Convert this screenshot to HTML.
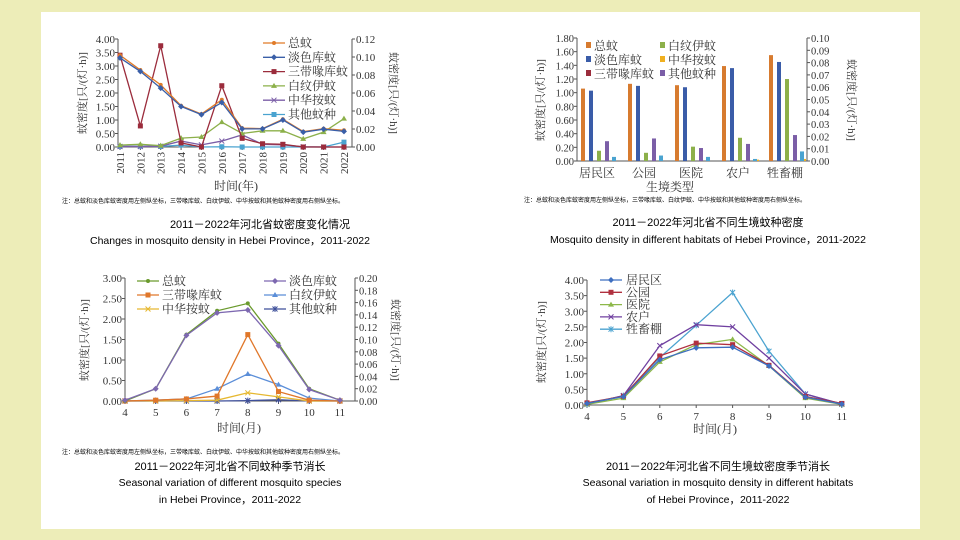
<!DOCTYPE html>
<html><head><meta charset="utf-8"><style>
html,body{margin:0;padding:0;background:#ededb8;width:960px;height:540px;overflow:hidden}
#w{position:absolute;left:41px;top:12px;width:879px;height:517px;background:#fff}
svg{position:absolute;left:0;top:0}
</style></head><body><div id="w"></div>
<svg id="s" width="960" height="540" xmlns="http://www.w3.org/2000/svg" font-family="'Liberation Serif','Noto Serif CJK SC',serif"></svg>
<script>
const S=document.getElementById('s');let h='';
const CJ="'Liberation Sans','Noto Sans CJK SC',sans-serif";
function t(x,y,s,o={}){h+=`<text x="${x}" y="${y}" font-size="${o.fs||11}" fill="${o.c||'#333'}" text-anchor="${o.a||'start'}" ${o.tr?`transform="${o.tr}"`:''} ${o.f?`font-family="${o.f}"`:''}>${s}</text>`;}
function l(x1,y1,x2,y2,c='#555',w=1){h+=`<line x1="${x1}" y1="${y1}" x2="${x2}" y2="${y2}" stroke="${c}" stroke-width="${w}"/>`;}
function mk(x,y,m,c){if(m=='o')h+=`<circle cx="${x}" cy="${y}" r="2" fill="${c}"/>`;else if(m=='s')h+=`<rect x="${x-2.5}" y="${y-2.5}" width="5" height="5" fill="${c}"/>`;else if(m=='t')h+=`<path d="M${x} ${y-3}L${x+3} ${y+2}L${x-3} ${y+2}Z" fill="${c}"/>`;else if(m=='d')h+=`<path d="M${x} ${y-3}L${x+3} ${y}L${x} ${y+3}L${x-3} ${y}Z" fill="${c}"/>`;else if(m=='x'){l(x-2.5,y-2.5,x+2.5,y+2.5,c);l(x-2.5,y+2.5,x+2.5,y-2.5,c);}else if(m=='*'){l(x-2.5,y-2.5,x+2.5,y+2.5,c);l(x-2.5,y+2.5,x+2.5,y-2.5,c);l(x,y-3,x,y+3,c);}}
function series(xs,ys,c,m){h+=`<polyline fill="none" stroke="${c}" stroke-width="1.3" points="${xs.map((x,i)=>x+','+ys[i]).join(' ')}"/>`;xs.forEach((x,i)=>mk(x,ys[i],m,c));}
function yaxis(x,y0,y1,n,lab,side,fs){l(x,y0,x,y1);for(let i=0;i<=n;i++){let y=y0+(y1-y0)*i/n;l(side<0?x-3:x,y,side<0?x:x+3,y);t(side<0?x-3:x+4,y+4,lab(i),{a:side<0?'end':'start',fs:fs||11});}}
// ===== Chart 1
{const x0=120,dx=20.36,y0=147,k=27;l(118,y0,352,y0);
yaxis(118,147,39,8,i=>(i*0.5).toFixed(2),-1);yaxis(352,147,39,6,i=>(i*0.02).toFixed(2),1);
const xs=[...Array(12)].map((_,i)=>x0+i*dx);
xs.forEach((x,i)=>{l(x,147,x,150);t(x+4,152,2011+i,{a:'end',tr:`rotate(-90 ${x+4} 152)`});});
const Y=a=>a.map(v=>y0-v*k);
series(xs,Y([0.02,0.03,0.02,0.07,0,0.01,0,0,0,0,0,0.18]),'#4aa3d0','s');
series(xs,Y([0.02,0.02,0.03,0.22,0.08,0.22,0.45,0.1,0.08,0.01,0,0]),'#7b5ea7','x');
series(xs,Y([0.07,0.1,0.05,0.33,0.37,0.92,0.5,0.6,0.6,0.3,0.55,1.05]),'#8cb04a','t');
series(xs,Y([3.4,0.78,3.75,0.15,0,2.27,0.32,0.12,0.1,0,0,0]),'#9b2c3c','s');
series(xs,Y([3.4,2.85,2.3,1.53,1.22,1.75,0.7,0.68,1.03,0.57,0.68,0.62]),'#e07b28','o');
series(xs,Y([3.3,2.8,2.18,1.5,1.2,1.65,0.67,0.67,1.0,0.55,0.66,0.58]),'#3a5fa8','d');
t(86,93,'蚊密度[只/(灯·h)]',{a:'middle',tr:'rotate(-90 86 93)'});t(390,93,'蚊密度[只/(灯·h)]',{a:'middle',tr:'rotate(90 390 93)'});
t(236,190,'时间(年)',{a:'middle',fs:12});
[['总蚊','#e07b28','o'],['淡色库蚊','#3a5fa8','d'],['三带喙库蚊','#9b2c3c','s'],['白纹伊蚊','#8cb04a','t'],['中华按蚊','#7b5ea7','x'],['其他蚊种','#4aa3d0','s']].forEach((r,i)=>{let y=43+i*14.3;l(263,y,285,y,r[1],1.3);mk(274,y,r[2],r[1]);t(288,y+4,r[0],{fs:12});});
t(62,203,'注：总蚊和淡色库蚊密度用左侧纵坐标，三带喙库蚊、白纹伊蚊、中华按蚊和其他蚊种密度用右侧纵坐标。',{fs:6,f:CJ,c:'#000'});
t(260,228,'2011－2022年河北省蚊密度变化情况',{a:'middle',fs:11,f:CJ,c:'#000'});
t(230,244,'Changes in mosquito density in Hebei Province，2011-2022',{a:'middle',fs:10.5,f:CJ,c:'#000'});}
// ===== Chart 2
{const y0=161,k=68.3;l(577,y0,807,y0);
yaxis(577,161,38,9,i=>(i*0.2).toFixed(2),-1,10.5);yaxis(807,161,38,10,i=>(i*0.01).toFixed(2),1,10.5);
const cols=['#d77b2f','#3a5ca8','#8cb04a','#7b5ea7','#4aa3d0','#f0b020'];
const d=[[1.06,1.13,1.11,1.39,1.55],[1.03,1.10,1.08,1.36,1.45],[0.15,0.12,0.21,0.34,1.2],[0.29,0.33,0.19,0.25,0.38],[0.06,0.08,0.06,0.03,0.14],[0,0,0,0.02,0.03]];
const off=[0,8,16,24,31,35];
for(let g=0;g<5;g++){let bx=581+g*47;for(let s=0;s<6;s++){let v=d[s][g];if(v>0)h+=`<rect x="${bx+off[s]}" y="${y0-v*k}" width="${s==5?2:4}" height="${v*k}" fill="${cols[s]}"/>`;}}
['居民区','公园','医院','农户','牲畜棚'].forEach((n,i)=>t(597+i*47,177,n,{a:'middle',fs:12}));
t(670,191,'生境类型',{a:'middle',fs:12});
t(544,100,'蚊密度[只/(灯·h)]',{a:'middle',tr:'rotate(-90 544 100)'});t(848,100,'蚊密度[只/(灯·h)]',{a:'middle',tr:'rotate(90 848 100)'});
[['总蚊',0,0],['淡色库蚊',1,0],['三带喙库蚊','#9b2c3c',0],['白纹伊蚊',2,1],['中华按蚊',5,1],['其他蚊种',3,1]].forEach((r,i)=>{let row=i%3,x=r[2]?660:586,y=45+row*14;let c=typeof r[1]=='number'?cols[r[1]]:r[1];h+=`<rect x="${x}" y="${y-3}" width="5" height="6" fill="${c}"/>`;t(x+8,y+5,r[0],{fs:12});});
t(524,202,'注：总蚊和淡色库蚊密度用左侧纵坐标，三带喙库蚊、白纹伊蚊、中华按蚊和其他蚊种密度用右侧纵坐标。',{fs:6,f:CJ,c:'#000'});
t(708,226,'2011－2022年河北省不同生境蚊种密度',{a:'middle',fs:11,f:CJ,c:'#000'});
t(708,243,'Mosquito density in different habitats of Hebei Province，2011-2022',{a:'middle',fs:10.5,f:CJ,c:'#000'});}
// ===== Chart 3
{const x0=125,dx=30.7,y0=401,k=41;l(125,y0,355,y0);
yaxis(125,401,278,6,i=>(i*0.5).toFixed(2),-1);yaxis(355,401,278,10,i=>(i*0.02).toFixed(2),1,10.5);
const xs=[...Array(8)].map((_,i)=>x0+i*dx);xs.forEach((x,i)=>{l(x,401,x,404);t(x,416,4+i,{a:'middle'});});
const Y=a=>a.map(v=>y0-v*k);
series(xs,Y([0,0,0,0,0.01,0.03,0,0]),'#3e4f9a','*');
series(xs,Y([0,0,0.01,0.02,0.2,0.1,0,0]),'#e6b830','x');
series(xs,Y([0,0.02,0.05,0.3,0.66,0.4,0.07,0]),'#5b8ed8','t');
series(xs,Y([0,0.02,0.05,0.12,1.62,0.23,0.02,0]),'#e0772a','s');
series(xs,Y([0,0.3,1.62,2.2,2.38,1.4,0.3,0.02]),'#6a9a2c','o');
series(xs,Y([0.02,0.3,1.6,2.15,2.22,1.35,0.28,0.02]),'#7d68b0','d');
t(88,340,'蚊密度[只/(灯·h)]',{a:'middle',tr:'rotate(-90 88 340)'});t(392,340,'蚊密度[只/(灯·h)]',{a:'middle',tr:'rotate(90 392 340)'});
t(239,432,'时间(月)',{a:'middle',fs:12});
[['总蚊','#6a9a2c','o',137,281],['三带喙库蚊','#e0772a','s',137,295],['中华按蚊','#e6b830','x',137,309],['淡色库蚊','#7d68b0','d',264,281],['白纹伊蚊','#5b8ed8','t',264,295],['其他蚊种','#3e4f9a','*',264,309]].forEach(r=>{l(r[3],r[4],r[3]+22,r[4],r[1],1.3);mk(r[3]+11,r[4],r[2],r[1]);t(r[3]+25,r[4]+4,r[0],{fs:12});});
t(62,454,'注：总蚊和淡色库蚊密度用左侧纵坐标，三带喙库蚊、白纹伊蚊、中华按蚊和其他蚊种密度用右侧纵坐标。',{fs:6,f:CJ,c:'#000'});
t(230,470,'2011－2022年河北省不同蚊种季节消长',{a:'middle',fs:11,f:CJ,c:'#000'});
t(230,486,'Seasonal variation of different mosquito species',{a:'middle',fs:10.5,f:CJ,c:'#000'});
t(230,503,'in Hebei Province，2011-2022',{a:'middle',fs:10.5,f:CJ,c:'#000'});}
// ===== Chart 4
{const x0=587,dx=36.4,y0=405,k=31.25;l(587,y0,843,y0);
yaxis(587,405,280,8,i=>(i*0.5).toFixed(2),-1);
const xs=[...Array(8)].map((_,i)=>x0+i*dx);xs.forEach((x,i)=>{l(x,405,x,408);t(x,420,4+i,{a:'middle'});});
const Y=a=>a.map(v=>y0-v*k);
series(xs,Y([0.02,0.3,1.52,2.55,3.6,1.72,0.35,0.02]),'#4ba3d0','*');
series(xs,Y([0.03,0.3,1.9,2.57,2.5,1.5,0.35,0.03]),'#7040a0','x');
series(xs,Y([0.02,0.22,1.38,1.93,2.1,1.25,0.22,0.02]),'#8db84a','t');
series(xs,Y([0.07,0.28,1.57,1.98,1.93,1.27,0.27,0.05]),'#b0303f','s');
series(xs,Y([0.05,0.27,1.45,1.83,1.85,1.25,0.25,0.03]),'#3e6fc0','d');
t(545,342,'蚊密度[只/(灯·h)]',{a:'middle',tr:'rotate(-90 545 342)'});
t(715,433,'时间(月)',{a:'middle',fs:12});
[['居民区','#3e6fc0','d'],['公园','#b0303f','s'],['医院','#8db84a','t'],['农户','#7040a0','x'],['牲畜棚','#4ba3d0','*']].forEach((r,i)=>{let y=280+i*12.3;l(600,y,622,y,r[1],1.3);mk(611,y,r[2],r[1]);t(626,y+4,r[0],{fs:12});});
t(718,470,'2011－2022年河北省不同生境蚊密度季节消长',{a:'middle',fs:11,f:CJ,c:'#000'});
t(718,486,'Seasonal variation in mosquito density in different habitats',{a:'middle',fs:10.5,f:CJ,c:'#000'});
t(718,503,'of Hebei Province，2011-2022',{a:'middle',fs:10.5,f:CJ,c:'#000'});}
S.innerHTML=h;
</script></body></html>
